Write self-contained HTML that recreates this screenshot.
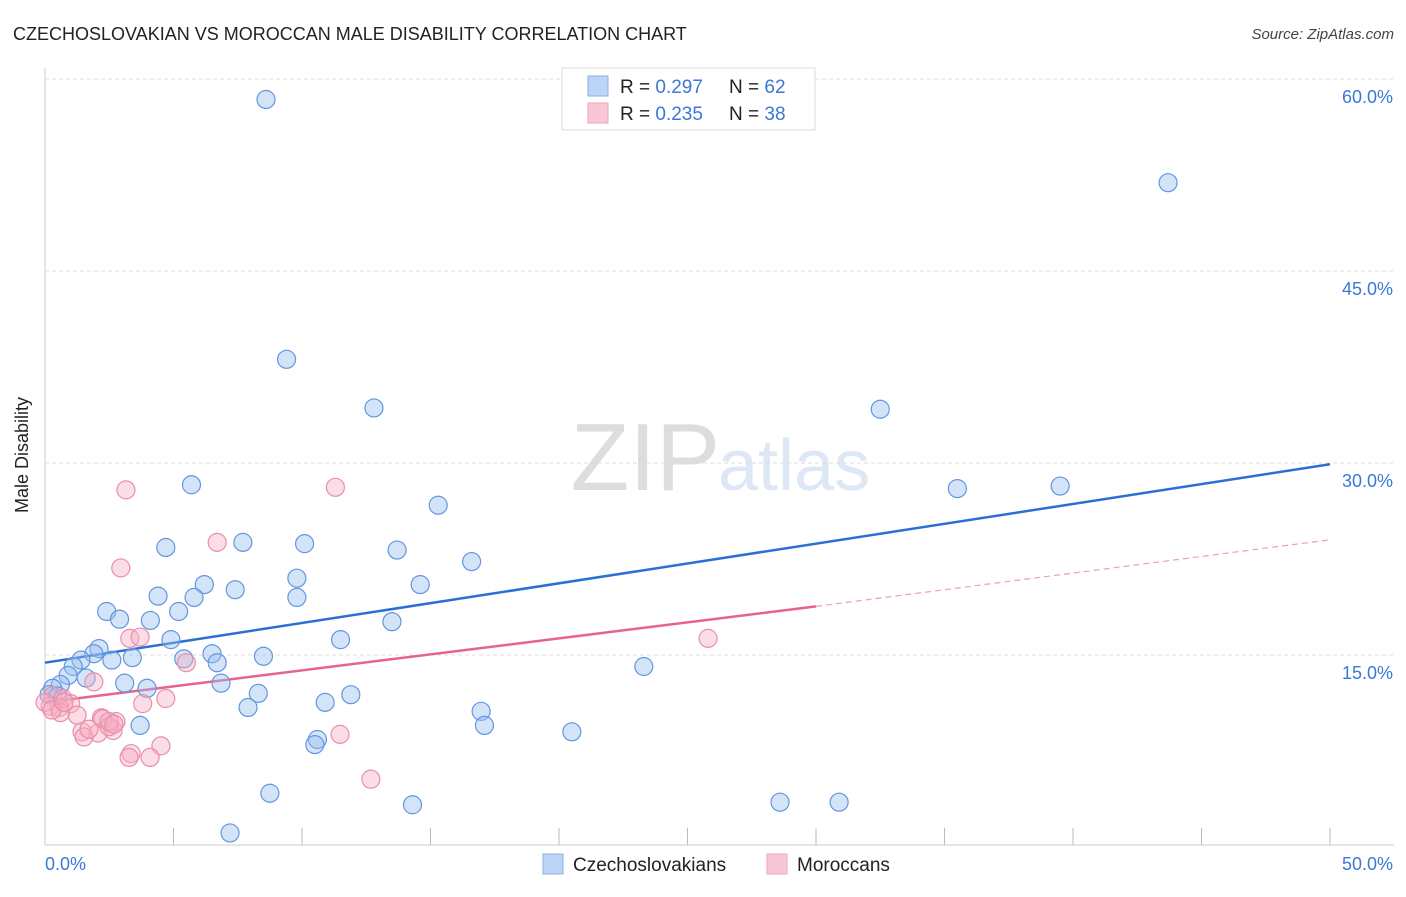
<!DOCTYPE html>
<html><head><meta charset="utf-8"><style>
body{margin:0;background:#fff;font-family:"Liberation Sans",sans-serif;}
svg text{font-family:"Liberation Sans",sans-serif;}
</style></head><body>
<svg width="1406" height="892" xmlns="http://www.w3.org/2000/svg">
<text x="13" y="40" font-size="18" fill="#222">CZECHOSLOVAKIAN VS MOROCCAN MALE DISABILITY CORRELATION CHART</text>
<text x="1394" y="39" font-size="15" fill="#444" font-style="italic" text-anchor="end">Source: ZipAtlas.com</text>
<text x="720" y="490" font-size="96" fill="#ddd" text-anchor="end" font-family="Liberation Serif">ZIP</text>
<text x="718" y="490" font-size="72" fill="#dde7f5">atlas</text>
<g id="grid"></g>
<line x1="45" y1="68" x2="45" y2="845" stroke="#ccc"/>
<line x1="45" y1="845" x2="1394" y2="845" stroke="#ccc"/>
<text x="28" y="455" font-size="18" fill="#222" text-anchor="middle" transform="rotate(-90 28 455)">Male Disability</text>
<text x="45" y="870" font-size="18" fill="#3b78d8">0.0%</text>
<text x="1393" y="870" font-size="18" fill="#3b78d8" text-anchor="end">50.0%</text>
<g id="lines"></g>
<g id="points"></g>
<g>
<rect x="562" y="68" width="253" height="62" fill="#fff" stroke="#ddd"/>
<rect x="588" y="76" width="20" height="20" fill="#bcd4f5" stroke="#8ab0e8"/>
<rect x="588" y="103" width="20" height="20" fill="#f9c6d5" stroke="#eea5bb"/>
<text x="620" y="93" font-size="19" fill="#222">R = <tspan fill="#3b78d8">0.297</tspan></text>
<text x="729" y="93" font-size="19" fill="#222">N = <tspan fill="#3b78d8">62</tspan></text>
<text x="620" y="120" font-size="19" fill="#222">R = <tspan fill="#3b78d8">0.235</tspan></text>
<text x="729" y="120" font-size="19" fill="#222">N = <tspan fill="#3b78d8">38</tspan></text>
</g>
<g>
<rect x="543" y="854" width="20" height="20" fill="#bcd4f5" stroke="#8ab0e8"/>
<text x="573" y="871" font-size="19" fill="#222">Czechoslovakians</text>
<rect x="767" y="854" width="20" height="20" fill="#f9c6d5" stroke="#eea5bb"/>
<text x="797" y="871" font-size="19" fill="#222">Moroccans</text>
</g>
</svg>
<script>
const yTicks=[15,30,45,60];
const xTicks=[0,5,10,15,20,25,30,35,40,45,50];
const blueX=[8.6,43.7,9.4,12.8,32.5,5.7,15.3,35.5,39.5,4.7,7.7,10.1,13.7,16.6,4.4,6.2,7.4,9.8,14.6,5.8,9.8,2.4,2.9,4.1,5.2,13.5,4.9,2.1,1.9,11.5,1.4,2.6,3.4,5.4,6.5,6.7,8.5,23.3,1.1,0.9,1.6,0.6,0.3,3.1,3.97,6.85,0.16,0.5,8.3,11.9,10.9,7.9,16.97,17.1,3.7,20.5,10.6,10.5,8.75,14.3,28.6,30.9,7.2];
const blueY=[58.4,51.9,38.1,34.3,34.2,28.3,26.7,28.0,28.2,23.4,23.8,23.7,23.2,22.3,19.6,20.5,20.1,21.0,20.5,19.5,19.5,18.4,17.8,17.7,18.4,17.6,16.2,15.5,15.1,16.2,14.6,14.6,14.8,14.7,15.1,14.4,14.9,14.1,14.1,13.4,13.2,12.7,12.4,12.8,12.4,12.8,11.9,11.8,12.0,11.9,11.3,10.9,10.6,9.5,9.5,9.0,8.4,8.0,4.2,3.3,3.5,3.5,1.1];
const pinkX=[3.15,11.3,6.7,2.95,3.3,3.7,25.8,5.5,1.9,4.7,3.8,0.3,0.7,1.0,0.55,0.2,1.25,0.6,2.2,2.25,2.76,2.65,1.44,2.06,1.52,1.71,2.49,4.51,3.35,3.27,4.09,11.48,12.68,0.0,0.27,0.74,2.49,2.68];
const pinkY=[27.9,28.1,23.8,21.8,16.3,16.4,16.3,14.4,12.9,11.6,11.2,11.8,11.6,11.2,10.9,11.0,10.3,10.5,10.1,10.0,9.8,9.1,9.0,8.9,8.6,9.2,9.4,7.9,7.3,7.0,7.0,8.8,5.3,11.3,10.7,11.3,9.8,9.6];
const blueTrend=[0,14.4,50,29.9];
const pinkTrend=[0,11.3,30,18.8,50,24.0];
const NS="http://www.w3.org/2000/svg";
function xs(v){return 45+v/50*1285;}
function ys(v){return 847-v/15*192;}
function mk(t,a,p){const e=document.createElementNS(NS,t);for(const k in a)e.setAttribute(k,a[k]);p.appendChild(e);return e;}
const grid=document.getElementById('grid');
yTicks.forEach(t=>{
 const l=mk('line',{x1:45,x2:1394,y1:ys(t),y2:ys(t),stroke:'#ddd','stroke-dasharray':'4,3'},grid);
 
 
 const tx=mk('text',{x:1393,y:ys(t)+24,'font-size':18,fill:'#3b78d8','text-anchor':'end'},grid);
 tx.textContent=t.toFixed(1)+'%';
 
 
});
xTicks.forEach(t=>{
 const l=mk('line',{x1:xs(t),x2:xs(t),y1:828,y2:845,stroke:'#bbb'},grid);
 
 
});
const lines=document.getElementById('lines');
const pts=document.getElementById('points');
function dots(X,Y,fill,stroke,name){for(let i=0;i<X.length;i++){
 const c=mk('circle',{cx:xs(X[i]),cy:ys(Y[i]),r:9,fill:fill,stroke:stroke,'stroke-width':1.2},pts);
 
 
}}
dots(blueX,blueY,'rgba(150,190,238,0.42)','#6396df','czechoslovakian-point');
dots(pinkX,pinkY,'rgba(246,175,196,0.42)','#ea8eaa','moroccan-point');
let b=mk('line',{x1:xs(blueTrend[0]),y1:ys(blueTrend[1]),x2:xs(blueTrend[2]),y2:ys(blueTrend[3]),stroke:'#2a6fd6','stroke-width':2.5},lines);


let p=mk('line',{x1:xs(pinkTrend[0]),y1:ys(pinkTrend[1]),x2:xs(pinkTrend[2]),y2:ys(pinkTrend[3]),stroke:'#e8628e','stroke-width':2.5},lines);


let pd=mk('line',{x1:xs(pinkTrend[2]),y1:ys(pinkTrend[3]),x2:xs(pinkTrend[4]),y2:ys(pinkTrend[5]),stroke:'#eaa0b8','stroke-width':1.2,'stroke-dasharray':'6,4'},lines);


</script>
</body></html>
